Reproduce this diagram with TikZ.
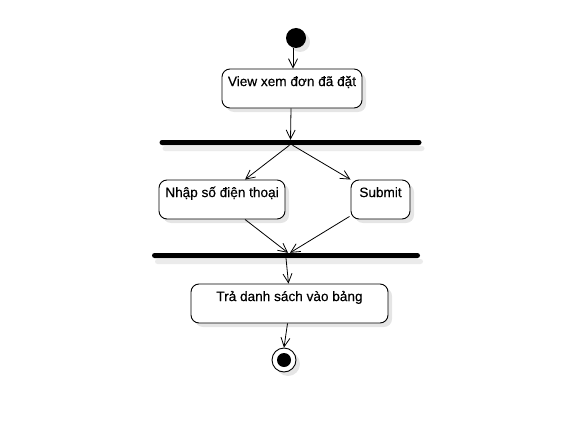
\documentclass[tikz,border=0pt]{standalone}
\usepackage{fontspec}
\setmainfont{Liberation Sans}
\newfontfamily\diagfont{Liberation Sans}[FakeBold=0.35]
\usetikzlibrary{arrows.meta,shadows,calc}
\begin{document}
\begin{tikzpicture}[x=1pt,y=-1pt,
  shad/.style={drop shadow={shadow xshift=4pt,shadow yshift=-4pt,fill=black!10,opacity=1}},
  abox/.style={draw=black,line width=0.9pt,rounded corners=8pt,fill=white,shad,inner sep=0pt},
  txt/.style={font=\diagfont\fontsize{13.6}{16}\selectfont,anchor=base,inner sep=0pt},
  bar/.style={fill=black,rounded corners=2.5pt,minimum height=5pt,inner sep=0pt,
    drop shadow={shadow xshift=3pt,shadow yshift=-6pt,fill=black!8,opacity=1}},
  flow/.style={draw=black,line width=0.8pt,-{Straight Barb[length=9pt,width=9pt,line width=0.8pt]}}
]
\useasboundingbox (0,0) rectangle (588,425);
% start
\node[circle,fill=black,minimum size=20pt,inner sep=0pt,shad] (start) at (296,38) {};
% box 1
\node[abox,minimum width=140pt,minimum height=39pt] (view) at (292,88.5) {};
\node[txt] (viewt) at ($(view.north)+(0,17.5)$) {View xem đơn đã đặt};
% bar 1
\node[bar,minimum width=262pt] (bar1) at (290.5,142.5) {};
% boxes
\node[abox,minimum width=126pt,minimum height=39pt] (nhap) at (222,199.5) {};
\node[txt] (nhapt) at ($(nhap.north)+(0,17.5)$) {Nhập số điện thoại};
\node[abox,minimum width=59pt,minimum height=39pt] (sub) at (380.5,199.5) {};
\node[txt] (subt) at ($(sub.north)+(0,17.5)$) {Submit};
% bar 2
\node[bar,minimum width=268pt] (bar2) at (286,255.5) {};
% box 3
\node[abox,minimum width=197pt,minimum height=39pt] (tra) at (289.5,303.5) {};
\node[txt] (trat) at ($(tra.north)+(0,17.5)$) {Trả danh sách vào bảng};
% end
\node[circle,draw=black,line width=0.9pt,fill=white,minimum size=24pt,inner sep=0pt,shad] (end) at (284,360) {};
\node[circle,fill=black,minimum size=14pt,inner sep=0pt] (endin) at (end.center) {};
% flows
\draw[flow] ($(start.south)+(-3,0)$) -- ($(view.north)+(1,0)$);
\draw[flow] ($(view.south)+(-1,0)$) -- ($(bar1.north)+(0,0)$);
\draw[flow] ($(bar1.south)+(-1,0)$) -- ($(nhap.north)+(23,0)$);
\draw[flow] ($(bar1.south)+(2,0)$) -- ($(sub.north)+(-30,0)$);
\draw[flow] ($(nhap.south)+(23,0)$) -- ($(bar2.north)+(2,0)$);
\draw[flow] ($(sub.south)+(-31,-3)$) -- ($(bar2.north)+(4,0)$);
\draw[flow] ($(bar2.south)+(0,0)$) -- ($(tra.north)+(-1,0)$);
\draw[flow] ($(tra.south)+(-2,0)$) -- (end.north);
\end{tikzpicture}
\end{document}
